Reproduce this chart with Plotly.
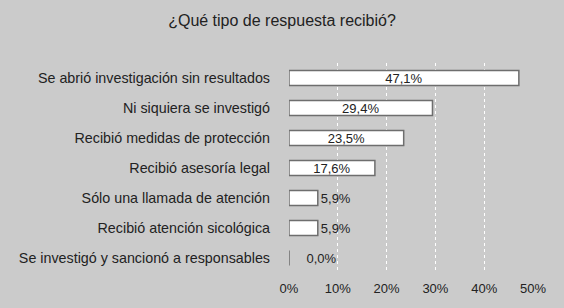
import plotly.graph_objects as go

categories = [
    "Se abrió investigación sin resultados",
    "Ni siquiera se investigó",
    "Recibió medidas de protección",
    "Recibió asesoría legal",
    "Sólo una llamada de atención",
    "Recibió atención sicológica",
    "Se investigó y sancionó a responsables",
]
values = [47.1, 29.4, 23.5, 17.6, 5.9, 5.9, 0.0]
tick_vals = [0, 10, 20, 30, 40, 50]
tick_text = ["0%", "10%", "20%", "30%", "40%", "50%"]

labels = [f"{v:.1f}%".replace(".", ",") for v in values]
labels = [("    " + t) if v == 0 else t for t, v in zip(labels, values)]
positions = ["inside" if v > 10 else "outside" for v in values]

FONT = "Liberation Sans, Arial, Helvetica"

fig = go.Figure(go.Bar(
    y=categories,
    x=values,
    orientation="h",
    text=labels,
    textposition=positions,
    insidetextanchor="middle",
    textfont=dict(family=FONT, size=13, color="#222222"),
    marker=dict(color="white", line=dict(color="#6e6e6e", width=1.5)),
    width=0.5,
    cliponaxis=False,
))

fig.update_layout(
    width=564, height=308,
    margin=dict(l=289, r=31, t=63, b=35),
    paper_bgcolor="#cbcbcb",
    plot_bgcolor="#cbcbcb",
    title=dict(text="¿Qué tipo de respuesta recibió?", x=0.5, xref="container", y=0.935,
               yanchor="middle",
               font=dict(family=FONT, size=16, color="#222222")),
    font=dict(family=FONT, size=13, color="#222222"),
    uniformtext=dict(mode="show", minsize=13),
    showlegend=False,
)
fig.update_xaxes(range=[0, 50], tickvals=tick_vals, ticktext=tick_text,
                 showgrid=True, gridcolor="white", griddash="dot", gridwidth=1,
                 zeroline=False, showline=False, ticks="",
                 tickfont=dict(size=13), ticklabelstandoff=6)
fig.update_yaxes(autorange="reversed", showgrid=False, ticks="",
                 showline=False, tickfont=dict(size=14.3), ticklabelstandoff=18)

fig.write_html("out.html", config={"displayModeBar": False},
               post_script="document.body.style.margin='0';document.body.style.padding='0';")
